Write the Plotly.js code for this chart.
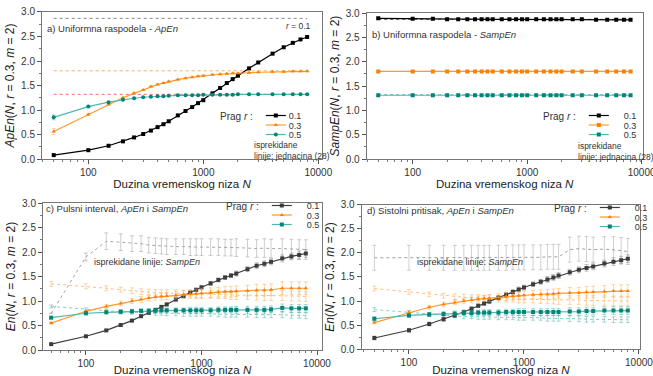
<!DOCTYPE html>
<html>
<head>
<meta charset="utf-8">
<script src="https://cdn.plot.ly/plotly-3.0.1.min.js"></script>
<style>
html,body{margin:0;padding:0;background:#fff;}
#chart{width:653px;height:376px;}
</style>
</head>
<body>
<div id="chart"></div>
<script>
// ---------- data ----------
// series lengths (N) for panels a, b (no 3500) and c, d (with 3500)
const N_ab = [50,100,150,200,250,300,350,400,450,500,600,700,800,900,1000,1200,1400,1600,1800,2000,2500,3000,4000,5000,6000,7000,8000];
const N_cd = [50,100,150,200,250,300,350,400,450,500,600,700,800,900,1000,1200,1400,1600,1800,2000,2500,3000,3500,4000,5000,6000,7000,8000];
const thresholds = ['0.1','0.3','0.5'];

// panel a: uniform distribution, ApEn
const a_r01 = [0.08,0.18,0.27,0.36,0.44,0.51,0.58,0.65,0.71,0.77,0.89,0.98,1.06,1.14,1.20,1.34,1.45,1.55,1.63,1.70,1.85,1.97,2.15,2.28,2.37,2.44,2.49];
const a_r03 = [0.56,0.91,1.11,1.25,1.34,1.41,1.48,1.52,1.55,1.58,1.62,1.65,1.67,1.69,1.70,1.72,1.73,1.74,1.75,1.75,1.76,1.77,1.78,1.78,1.79,1.79,1.79];
const a_r05 = [0.85,1.07,1.16,1.21,1.24,1.26,1.27,1.28,1.28,1.29,1.30,1.30,1.30,1.30,1.31,1.31,1.31,1.31,1.31,1.32,1.32,1.32,1.32,1.32,1.32,1.32,1.32];
const a_err03 = [0.06,0.02,0.01,0.01,0.01,0.01,0.01,0.01,0.01,0.01,0.01,0.01,0.01,0.01,0.01,0.01,0.01,0.01,0.01,0.01,0.01,0.01,0.01,0.01,0.01,0.01,0.01];
const a_err05 = [0.05,0.02,0.01,0.01,0.01,0.01,0.01,0.01,0.01,0.01,0.01,0.01,0.01,0.01,0.01,0.01,0.01,0.01,0.01,0.01,0.01,0.01,0.01,0.01,0.01,0.01,0.01];
// equation (28) levels
const eq28 = [2.87,1.80,1.32];

// panel b: uniform distribution, SampEn
const b_r01 = [2.89,2.88,2.88,2.87,2.87,2.87,2.87,2.87,2.87,2.87,2.87,2.87,2.87,2.87,2.87,2.87,2.87,2.87,2.87,2.87,2.87,2.87,2.86,2.86,2.86,2.86,2.86];
const b_r03 = [1.80,1.80,1.80,1.80,1.80,1.80,1.80,1.80,1.80,1.80,1.80,1.80,1.80,1.80,1.80,1.80,1.80,1.80,1.80,1.80,1.80,1.80,1.80,1.80,1.80,1.80,1.80];
const b_r05 = [1.31,1.31,1.31,1.31,1.31,1.31,1.31,1.31,1.31,1.31,1.31,1.31,1.31,1.31,1.31,1.31,1.31,1.31,1.31,1.31,1.31,1.31,1.31,1.31,1.31,1.31,1.31];

// panel c: pulse interval, ApEn (solid) and SampEn (dotted)
const c_ap01 = [0.12,0.28,0.40,0.51,0.60,0.69,0.76,0.82,0.88,0.93,1.03,1.10,1.17,1.23,1.28,1.36,1.43,1.48,1.52,1.56,1.65,1.72,1.76,1.80,1.87,1.91,1.94,1.97];
const c_ap03 = [0.55,0.79,0.89,0.95,1.00,1.03,1.06,1.08,1.09,1.10,1.12,1.13,1.14,1.15,1.16,1.17,1.18,1.19,1.19,1.20,1.21,1.22,1.22,1.23,1.26,1.26,1.26,1.26];
const c_ap05 = [0.66,0.75,0.77,0.78,0.79,0.80,0.80,0.80,0.81,0.81,0.81,0.81,0.81,0.81,0.81,0.81,0.82,0.82,0.82,0.82,0.82,0.82,0.82,0.83,0.86,0.85,0.85,0.85];
const c_se01 = [0.75,1.90,2.22,2.20,2.17,2.17,2.14,2.13,2.12,2.11,2.11,2.11,2.10,2.10,2.10,2.10,2.10,2.09,2.09,2.09,2.08,2.07,2.08,2.07,2.07,2.06,2.05,2.05];
const c_se03 = [1.35,1.30,1.26,1.23,1.21,1.19,1.18,1.17,1.17,1.16,1.16,1.15,1.15,1.14,1.14,1.14,1.13,1.13,1.12,1.12,1.12,1.11,1.11,1.11,1.11,1.10,1.10,1.09];
const c_se05 = [0.89,0.83,0.80,0.78,0.77,0.76,0.76,0.75,0.75,0.75,0.75,0.74,0.74,0.74,0.74,0.74,0.73,0.73,0.73,0.73,0.73,0.72,0.72,0.72,0.72,0.71,0.71,0.70];
const c_eap01 = [0.01,0.01,0.01,0.02,0.02,0.02,0.02,0.02,0.03,0.03,0.03,0.03,0.03,0.03,0.03,0.04,0.04,0.04,0.04,0.05,0.05,0.06,0.06,0.06,0.07,0.07,0.08,0.08];
const c_eap03 = [0.02,0.03,0.04,0.05,0.05,0.06,0.06,0.06,0.07,0.07,0.08,0.08,0.09,0.09,0.10,0.10,0.10,0.11,0.11,0.11,0.11,0.12,0.12,0.12,0.13,0.13,0.13,0.13];
const c_eap05 = [0.02,0.03,0.03,0.04,0.04,0.04,0.05,0.05,0.05,0.05,0.05,0.05,0.06,0.06,0.06,0.06,0.06,0.06,0.06,0.07,0.07,0.07,0.07,0.07,0.08,0.08,0.08,0.08];
const c_ese01 = [0.00,0.08,0.17,0.17,0.16,0.16,0.16,0.16,0.16,0.16,0.16,0.16,0.17,0.17,0.17,0.17,0.17,0.17,0.17,0.18,0.18,0.18,0.19,0.19,0.20,0.20,0.20,0.20];
const c_ese03 = [0.05,0.05,0.05,0.05,0.06,0.06,0.06,0.06,0.06,0.07,0.07,0.07,0.07,0.08,0.08,0.08,0.08,0.08,0.09,0.09,0.09,0.09,0.10,0.10,0.10,0.10,0.10,0.10];
const c_ese05 = [0.03,0.03,0.03,0.04,0.04,0.04,0.04,0.04,0.04,0.05,0.05,0.05,0.05,0.05,0.05,0.05,0.05,0.06,0.06,0.06,0.06,0.06,0.06,0.06,0.06,0.06,0.06,0.06];

// panel d: systolic pressure, ApEn (solid) and SampEn (dotted)
const d_ap01 = [0.23,0.39,0.52,0.62,0.70,0.77,0.84,0.90,0.95,0.99,1.07,1.13,1.19,1.24,1.28,1.35,1.40,1.45,1.49,1.53,1.60,1.65,1.69,1.72,1.78,1.82,1.85,1.88];
const d_ap03 = [0.55,0.76,0.87,0.93,0.97,1.00,1.02,1.04,1.05,1.06,1.08,1.09,1.10,1.11,1.12,1.13,1.14,1.14,1.15,1.16,1.17,1.17,1.18,1.19,1.20,1.21,1.21,1.21];
const d_ap05 = [0.63,0.70,0.72,0.73,0.74,0.75,0.75,0.76,0.76,0.76,0.76,0.77,0.77,0.77,0.77,0.77,0.77,0.77,0.77,0.77,0.78,0.78,0.79,0.79,0.80,0.80,0.80,0.80];
const d_se01 = [1.90,1.90,1.90,1.90,1.90,1.90,1.90,1.90,1.90,1.90,1.90,1.90,1.91,1.91,1.91,1.91,1.91,1.92,1.92,1.92,2.07,2.09,2.08,2.07,2.08,2.07,2.05,2.03];
const d_se03 = [1.26,1.19,1.14,1.11,1.09,1.08,1.07,1.07,1.06,1.06,1.05,1.05,1.05,1.04,1.04,1.04,1.03,1.03,1.03,1.02,1.02,1.02,1.01,1.01,1.01,1.00,1.00,1.00];
const d_se05 = [0.82,0.76,0.72,0.70,0.69,0.68,0.68,0.67,0.67,0.67,0.66,0.66,0.66,0.65,0.65,0.65,0.65,0.64,0.64,0.64,0.63,0.63,0.62,0.62,0.62,0.61,0.61,0.61];
const d_eap01 = [0.04,0.04,0.04,0.04,0.04,0.04,0.04,0.04,0.04,0.04,0.04,0.05,0.05,0.05,0.05,0.05,0.05,0.06,0.06,0.06,0.06,0.06,0.07,0.07,0.07,0.08,0.08,0.08];
const d_eap03 = [0.03,0.04,0.04,0.05,0.05,0.05,0.06,0.06,0.06,0.07,0.07,0.08,0.08,0.08,0.09,0.09,0.09,0.10,0.10,0.10,0.11,0.11,0.12,0.12,0.12,0.13,0.13,0.13];
const d_eap05 = [0.04,0.04,0.04,0.05,0.05,0.05,0.05,0.05,0.06,0.06,0.06,0.06,0.06,0.07,0.07,0.07,0.07,0.07,0.07,0.07,0.08,0.08,0.08,0.08,0.08,0.08,0.08,0.08];
const d_ese01 = [0.26,0.26,0.26,0.26,0.26,0.26,0.26,0.26,0.26,0.26,0.26,0.26,0.26,0.26,0.26,0.26,0.26,0.26,0.26,0.26,0.26,0.26,0.26,0.26,0.26,0.27,0.27,0.27];
const d_ese03 = [0.05,0.05,0.05,0.05,0.06,0.06,0.06,0.06,0.06,0.07,0.07,0.07,0.07,0.08,0.08,0.08,0.08,0.08,0.09,0.09,0.09,0.09,0.10,0.10,0.10,0.10,0.10,0.10];
const d_ese05 = [0.04,0.04,0.04,0.04,0.04,0.05,0.05,0.05,0.05,0.05,0.05,0.05,0.05,0.05,0.05,0.05,0.05,0.06,0.06,0.06,0.06,0.06,0.06,0.06,0.06,0.06,0.06,0.06];

// ---------- styles ----------
const BLACK = '#000000', DGRAY = '#3c3c3c';
const OR_L = '#ff9a2e', OR_M = '#ff7f00';
const TE_L = '#4fb8ad', TE_M = '#00857a';
const OR_PALE = 'rgba(255,160,60,0.55)', TE_PALE = 'rgba(40,160,150,0.5)', GR_PALE = 'rgba(120,120,120,0.55)';

const traces = [];
function solid(x, y, xa, ya, lineCol, mkCol, sym, name, legend, err, errCol){
  const t = {x:x, y:y, xaxis:xa, yaxis:ya, type:'scatter', mode:'lines+markers',
    name:name, legend:legend, showlegend: !!legend,
    line:{color:lineCol, width:1.2}, marker:{color:mkCol, symbol:sym, size:4}};
  if (err) t.error_y = {type:'data', array:err, visible:true, color:errCol, thickness:0.8, width:2};
  traces.push(t);
}
function dotted(x, y, xa, ya, col, err, errCol){
  const t = {x:x, y:y, xaxis:xa, yaxis:ya, type:'scatter', mode:'lines', showlegend:false,
    line:{color:col, width:1, dash:'dot'}, hoverinfo:'skip'};
  if (err) t.error_y = {type:'data', array:err, visible:true, color:errCol, thickness:0.8, width:2};
  traces.push(t);
}

// panel a
const eqX = [N_ab[0], N_ab[N_ab.length-1]];
dotted(eqX, [eq28[0],eq28[0]], 'x', 'y', '#8a8a8a');
dotted(eqX, [eq28[1],eq28[1]], 'x', 'y', '#ffb060');
dotted(eqX, [eq28[2],eq28[2]], 'x', 'y', '#ff6a6a');
solid(N_ab, a_r01, 'x', 'y', BLACK, BLACK, 'square', thresholds[0], 'legend');
solid(N_ab, a_r03, 'x', 'y', OR_L, OR_M, 'triangle-up', thresholds[1], 'legend', a_err03, OR_PALE);
solid(N_ab, a_r05, 'x', 'y', TE_L, TE_M, 'circle', thresholds[2], 'legend', a_err05, TE_PALE);

// panel b
dotted(eqX, [eq28[0],eq28[0]], 'x2', 'y2', '#555555');
dotted(eqX, [eq28[1],eq28[1]], 'x2', 'y2', '#ffb060');
dotted(eqX, [eq28[2],eq28[2]], 'x2', 'y2', '#4fb8ad');
solid(N_ab, b_r01, 'x2', 'y2', BLACK, BLACK, 'square', thresholds[0], 'legend2');
solid(N_ab, b_r03, 'x2', 'y2', OR_L, OR_M, 'square', thresholds[1], 'legend2');
solid(N_ab, b_r05, 'x2', 'y2', TE_L, TE_M, 'square', thresholds[2], 'legend2');

// panel c
dotted(N_cd, c_se01, 'x3', 'y3', '#a8a8a8', c_ese01, 'rgba(150,150,150,0.6)');
dotted(N_cd, c_se03, 'x3', 'y3', '#ffc080', c_ese03, OR_PALE);
dotted(N_cd, c_se05, 'x3', 'y3', '#80cfc6', c_ese05, TE_PALE);
solid(N_cd, c_ap01, 'x3', 'y3', DGRAY, DGRAY, 'square', thresholds[0], 'legend3', c_eap01, GR_PALE);
solid(N_cd, c_ap03, 'x3', 'y3', OR_L, OR_M, 'triangle-up', thresholds[1], 'legend3', c_eap03, OR_PALE);
solid(N_cd, c_ap05, 'x3', 'y3', TE_L, TE_M, 'square', thresholds[2], 'legend3', c_eap05, TE_PALE);

// panel d
dotted(N_cd, d_se01, 'x4', 'y4', '#a0a0a0', d_ese01, 'rgba(150,150,150,0.55)');
dotted(N_cd, d_se03, 'x4', 'y4', '#ffc080', d_ese03, OR_PALE);
dotted(N_cd, d_se05, 'x4', 'y4', '#80cfc6', d_ese05, TE_PALE);
solid(N_cd, d_ap01, 'x4', 'y4', DGRAY, DGRAY, 'square', thresholds[0], 'legend4', d_eap01, GR_PALE);
solid(N_cd, d_ap03, 'x4', 'y4', OR_L, OR_M, 'triangle-up', thresholds[1], 'legend4', d_eap03, OR_PALE);
solid(N_cd, d_ap05, 'x4', 'y4', TE_L, TE_M, 'square', thresholds[2], 'legend4', d_eap05, TE_PALE);

// ---------- axes ----------
const FONT = 'Liberation Sans, Arial, sans-serif';
const minorVals = [];
[10,100,1000].forEach(d => { for (let k=2;k<=9;k++) minorVals.push(k*d); });

function xAxis(domain, range, anchor){
  return {domain:domain, type:'log', range:range, anchor:anchor,
    tickmode:'array', tickvals:[100,1000,10000], ticktext:['100','1000','10000'],
    ticklabeloverflow:'allow',
    ticks:'outside', ticklen:4, tickwidth:1, tickcolor:'#555',
    minor:{tickmode:'array', tickvals:minorVals, ticks:'outside', ticklen:2, tickcolor:'#777'},
    showline:true, linecolor:'#777', linewidth:1, mirror:true, showgrid:false, zeroline:false,
    tickfont:{family:FONT, size:10, color:'#333'},
    title:{text:'Duzina vremenskog niza <i>N</i>', font:{family:FONT, size:11.5, color:'#222'}, standoff:1}};
}
function yAxis(domain, anchor, title){
  return {domain:domain, range:[0,3], anchor:anchor, tickmode:'linear', tick0:0, dtick:0.5, tickformat:'.1f',
    ticks:'outside', ticklen:4, tickwidth:1, tickcolor:'#555',
    minor:{dtick:0.25, ticks:'outside', ticklen:2, tickcolor:'#777'},
    showline:true, linecolor:'#777', linewidth:1, mirror:true, showgrid:false, zeroline:false,
    tickfont:{family:FONT, size:10, color:'#333'},
    title:{text:title, font:{family:FONT, size:12, color:'#222'}, standoff:3}};
}

function legendCfg(x, y){
  return {x:x, y:y, xanchor:'left', yanchor:'top', xref:'paper', yref:'paper',
    bgcolor:'rgba(0,0,0,0)', borderwidth:0, font:{family:FONT, size:9, color:'#333'},
    title:{text:'Prag <i>r</i> :', side:'left', font:{family:FONT, size:10, color:'#333'}},
    itemwidth:30, tracegroupgap:0};
}

const annFont = {family:FONT, size:9.5, color:'#333'};
const smallFont = {family:FONT, size:8.5, color:'#333'};
const midFont = {family:FONT, size:9, color:'#333'};
function ann(xref, yref, x, y, text, font, xanchor, yanchor){
  return {xref:xref, yref:yref, x:x, y:y, text:text, showarrow:false, font:font,
    xanchor:xanchor||'left', yanchor:yanchor||'middle', align:'left'};
}

const layout = {
  width:653, height:376, margin:{l:0,r:0,t:0,b:0},
  paper_bgcolor:'#fff', plot_bgcolor:'#fff', showlegend:true,
  font:{family:FONT},
  xaxis: xAxis([0.0643,0.4931],[1.597,4.032],'y'),
  yaxis: yAxis([0.5771,0.9681],'x','<i>ApEn</i>(<i>N</i>, <i>r</i> = 0.3, <i>m</i> = 2)'),
  xaxis2: xAxis([0.5615,0.9842],[1.598,4.009],'y2'),
  yaxis2: yAxis([0.5771,0.9654],'x2','<i>SampEn</i>(<i>N</i>, <i>r</i> = 0.3, <i>m</i> = 2)'),
  xaxis3: xAxis([0.0658,0.4931],[1.628,4.043],'y3'),
  yaxis3: yAxis([0.0691,0.4601],'x3','<i>En</i>(<i>N</i>, <i>r</i> = 0.3, <i>m</i> = 2)'),
  xaxis4: xAxis([0.5539,0.9801],[1.589,4.009],'y4'),
  yaxis4: yAxis([0.0718,0.4548],'x4','<i>En</i>(<i>N</i>, <i>r</i> = 0.3, <i>m</i> = 2)'),
  legend: legendCfg(218/653, 1-107/376),
  legend2: legendCfg(541/653, 1-107/376),
  legend3: legendCfg(224/653, 1-197/376),
  legend4: legendCfg(552/653, 1-199/376),
  annotations:[
    ann('x domain','y domain',0.01,0.89,'a) Uniformna raspodela - <i>ApEn</i>',annFont),
    ann('x domain','y domain',0.915,0.905,'<i>r</i> = 0.1',smallFont,'center'),
    ann('x domain','y domain',0.75,0.14,'isprekidane<br>linije: jednacina (28)',smallFont,'left','top'),
    ann('x2 domain','y2 domain',0.012,0.856,'b) Uniformna raspodela - <i>SampEn</i>',annFont),
    ann('x2 domain','y2 domain',0.758,0.14,'isprekidane<br>linije: jednacina (28)',smallFont,'left','top'),
    ann('x3 domain','y3 domain',0.005,0.96,'c) Pulsni interval, <i>ApEn</i> i <i>SampEn</i>',annFont),
    ann('x3 domain','y3 domain',0.175,0.6,'isprekidane linije: <i>SampEn</i>',midFont),
    ann('x4 domain','y4 domain',0.012,0.965,'d) Sistolni pritisak, <i>ApEn</i> i <i>SampEn</i>',annFont),
    ann('x4 domain','y4 domain',0.19,0.606,'isprekidane linije: <i>SampEn</i>',midFont)
  ]
};

Plotly.newPlot('chart', traces, layout, {displayModeBar:false, staticPlot:true}).then(function(gd){
  // make the legends compact like the original: tighter rows and shorter keys
  try {
    ['legend','legend2','legend3','legend4'].forEach(function(cls){
      const lg = gd.querySelector('g.' + cls);
      if (!lg) return;
      const items = lg.querySelectorAll('g.traces');
      let y0 = null;
      items.forEach(function(it, i){
        const tr = it.getAttribute('transform') || '';
        const m = tr.match(/translate\(\s*([-\d.]+)[ ,]+([-\d.]+)\s*\)/);
        if (!m) return;
        if (y0 === null) y0 = parseFloat(m[2]) - 6;
        it.setAttribute('transform', 'translate(' + m[1] + ',' + (y0 + i*9.5) + ')');
        it.querySelectorAll('path.js-line').forEach(function(p){ p.setAttribute('d','M5,0h20'); });
        it.querySelectorAll('g.legendpoints path.scatterpts').forEach(function(p){
          p.setAttribute('transform','translate(15,0)');
        });
        it.querySelectorAll('text.legendtext').forEach(function(t){ t.setAttribute('x','28'); });
      });
    });
  } catch(e) {}
});
</script>
</body>
</html>
